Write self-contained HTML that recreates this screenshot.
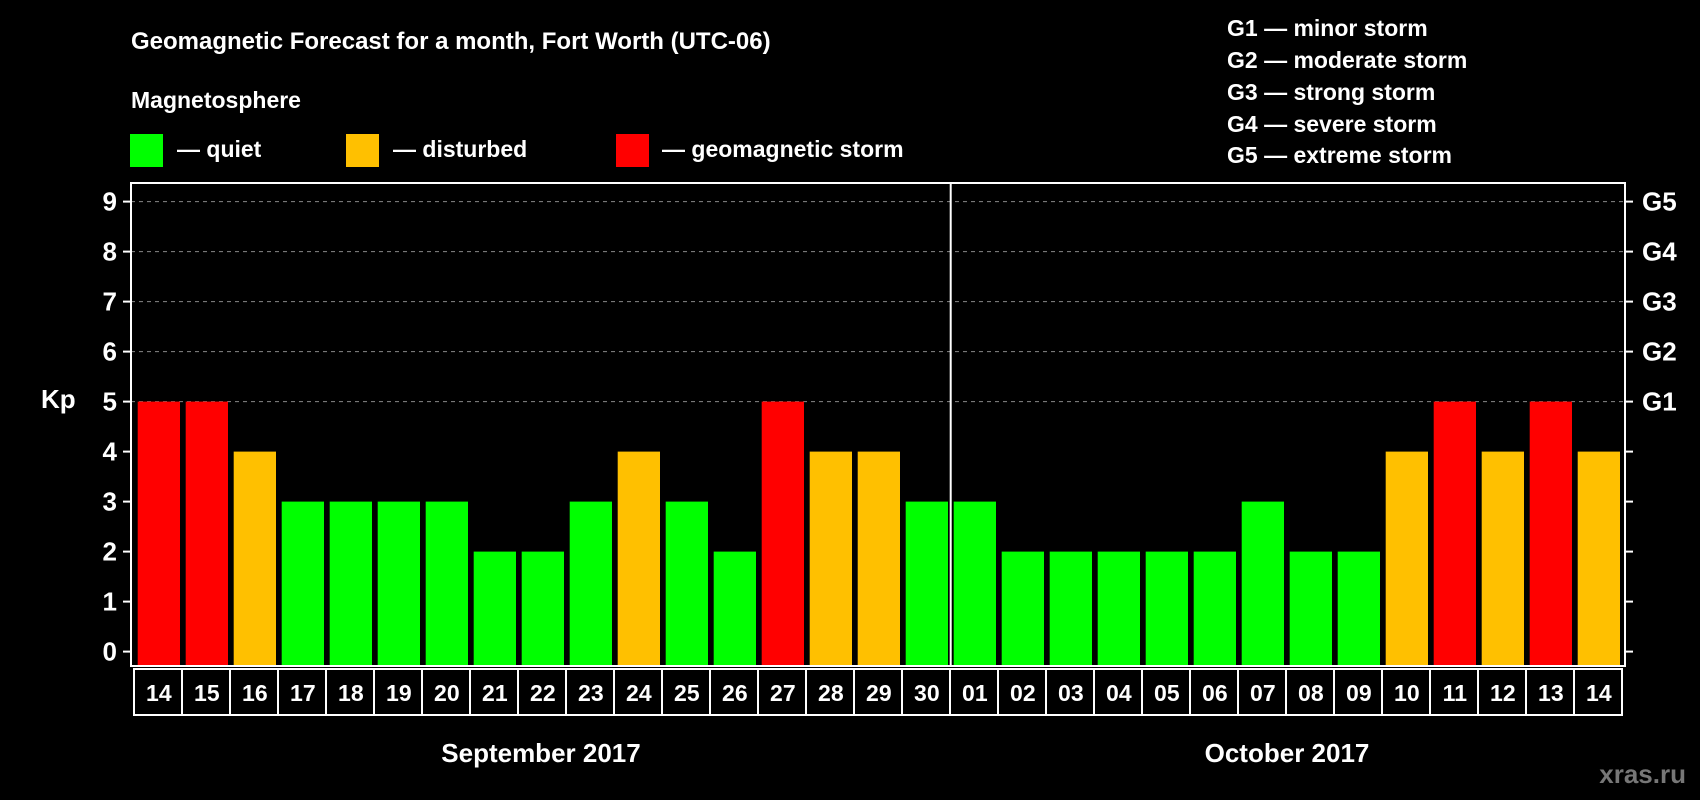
<!DOCTYPE html>
<html><head><meta charset="utf-8"><style>
body{margin:0;background:#000;width:1700px;height:800px;overflow:hidden}
svg{display:block;font-family:"Liberation Sans",sans-serif;font-weight:bold}
</style></head><body>
<svg id="c" width="1700" height="800">
<text x="131" y="49" fill="#fff" font-size="24">Geomagnetic Forecast for a month, Fort Worth (UTC-06)</text>
<text x="131" y="108" fill="#fff" font-size="23">Magnetosphere</text>
<rect x="130" y="134" width="33" height="33" fill="#00ff00"/>
<text x="177" y="157" fill="#fff" font-size="23">— quiet</text>
<rect x="346" y="134" width="33" height="33" fill="#ffc000"/>
<text x="393" y="157" fill="#fff" font-size="23">— disturbed</text>
<rect x="616" y="134" width="33" height="33" fill="#ff0000"/>
<text x="662" y="157" fill="#fff" font-size="23">— geomagnetic storm</text>
<g fill="#fff" font-size="23">
<text x="1227" y="36">G1 — minor storm</text>
<text x="1227" y="68">G2 — moderate storm</text>
<text x="1227" y="100">G3 — strong storm</text>
<text x="1227" y="132">G4 — severe storm</text>
<text x="1227" y="163">G5 — extreme storm</text>
</g>
<text x="41" y="408" fill="#fff" font-size="26">Kp</text>
<text x="1541" y="753" fill="#fff" font-size="26" text-anchor="middle" id="m1">September 2017</text>
<text x="1287" y="762" fill="#fff" font-size="26" text-anchor="middle">October 2017</text>
<text x="1686" y="783" fill="#777" font-size="26" text-anchor="end">xras.ru</text>
<g id="plot"></g>
</svg>
<script>
const days=["14","15","16","17","18","19","20","21","22","23","24","25","26","27","28","29","30","01","02","03","04","05","06","07","08","09","10","11","12","13","14"];
const kp=[5,5,4,3,3,3,3,2,2,3,4,3,2,5,4,4,3,3,2,2,2,2,2,3,2,2,4,5,4,5,4];
const yTicks=[0,1,2,3,4,5,6,7,8,9];
const gLabels=["G1","G2","G3","G4","G5"];
const NS="http://www.w3.org/2000/svg";
const g=document.getElementById('plot');
document.getElementById('m1').setAttribute('x','541');
document.getElementById('m1').setAttribute('y','762');
const L=131,R=1625,T=183,B=666,Y0=651.6,U=50,X0=137.7,P=48,BW=42.3;
const y=v=>Y0-v*U, x=i=>X0+i*P;
function mk(t,a){const e=document.createElementNS(NS,t);for(const k in a)e.setAttribute(k,a[k]);g.appendChild(e);return e;}
yTicks.forEach(v=>{
 if(v>=5){const l=mk('line',{x1:L,x2:R,y1:y(v),y2:y(v),stroke:'#888','stroke-dasharray':'4,4','stroke-width':1});
 
 }
 const t1=mk('line',{x1:L-8,x2:L,y1:y(v),y2:y(v),stroke:'#fff','stroke-width':2});
 
 
 const t2=mk('line',{x1:R,x2:R+8,y1:y(v),y2:y(v),stroke:'#fff','stroke-width':2});
 
 
 const tx=mk('text',{x:117,y:y(v)+9,fill:'#fff','font-size':26,'text-anchor':'end'});tx.textContent=v;
 
 
});
gLabels.forEach((s,i)=>{const t=mk('text',{x:1642,y:y(5+i)+9,fill:'#fff','font-size':26});t.textContent=s;
 
 });
kp.forEach((v,i)=>{
 const c=v>=5?'#ff0000':v>=4?'#ffc000':'#00ff00';
 const r=mk('rect',{x:x(i),y:y(v),width:BW,height:Y0+14-y(v),fill:c});
 
 
 const b=mk('rect',{x:x(i)-3.7,y:669,width:P,height:46,fill:'none',stroke:'#fff','stroke-width':2});
 
 
 const t=mk('text',{x:x(i)+BW/2,y:701,fill:'#fff','font-size':23,'text-anchor':'middle'});t.textContent=days[i];
 
 
});
const fr=mk('rect',{x:L,y:T,width:R-L,height:B-T,fill:'none',stroke:'#fff','stroke-width':2});


const dv=mk('line',{x1:x(17)-3,x2:x(17)-3,y1:T,y2:B,stroke:'#fff','stroke-width':2});


</script>
</body></html>
